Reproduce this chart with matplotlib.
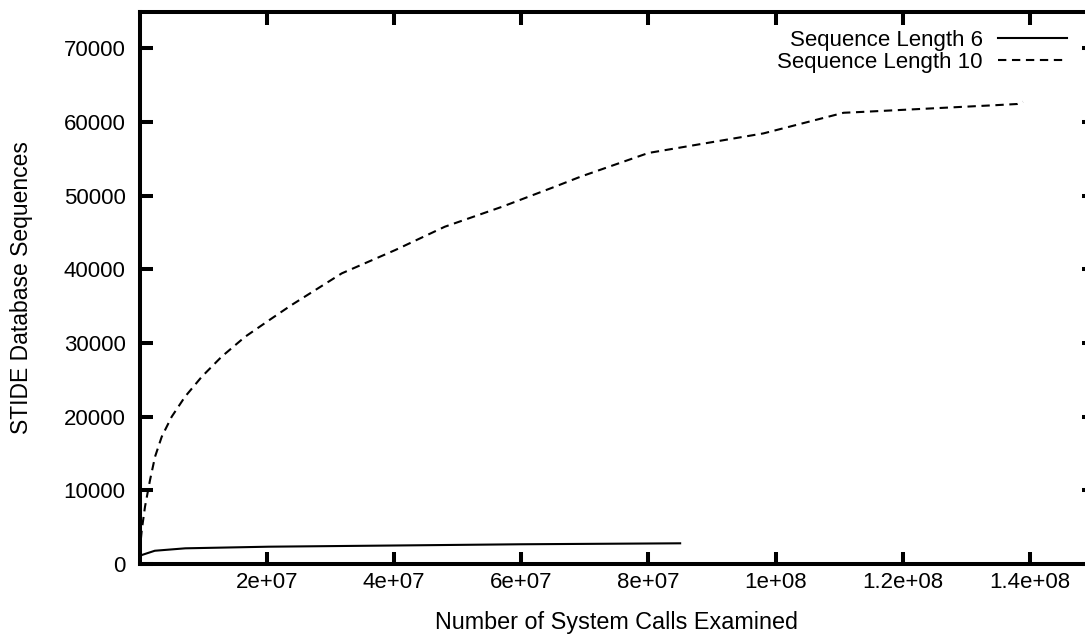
import matplotlib
matplotlib.use("Agg")
import matplotlib.pyplot as plt

plt.rcParams['font.family'] = ['Liberation Sans', 'DejaVu Sans']

# values
calls_len6 = [0, 3.5e5, 2.4e6, 7.2e6, 2.03e7, 4.1e7, 6.0e7, 8.5e7]
seqs_len6 = [900, 1220, 1800, 2130, 2350, 2520, 2680, 2810]

calls_len10 = [0, 3.5e5, 8.6e5, 1.65e6, 2.44e6, 3.49e6, 5.06e6, 7.15e6, 9.78e6,
               1.29e7, 1.66e7, 2.08e7, 2.39e7, 3.18e7, 4.02e7, 4.8e7, 5.7e7,
               6.53e7, 6.93e7, 8.0e7, 9.81e7, 1.107e8, 1.13e8, 1.348e8,
               1.38e8, 1.389e8]
seqs_len10 = [1500, 4600, 7780, 11400, 14570, 17280, 20000, 22710, 25420,
              28140, 30850, 33350, 35160, 39460, 42620, 45790, 48500,
              51220, 52570, 55800, 58460, 61260, 61350, 62300,
              62450, 62750]

xticks = [2e7, 4e7, 6e7, 8e7, 1e8, 1.2e8, 1.4e8]
xtick_labels = ['2e+07', '4e+07', '6e+07', '8e+07', '1e+08', '1.2e+08', '1.4e+08']
yticks = [0, 10000, 20000, 30000, 40000, 50000, 60000, 70000]

fig = plt.figure(figsize=(10.85, 6.35), dpi=100)
ax = fig.add_axes([0.1286, 0.1118, 0.8793, 0.870])

ax.plot(calls_len6, seqs_len6, color='black', lw=1.5, label='Sequence Length 6')
ax.plot(calls_len10, seqs_len10, color='black', lw=1.5, dashes=(4, 2.7),
        label='Sequence Length 10')

ax.set_xlim(0, 1.5e8)
ax.set_ylim(0, 75000)
ax.set_xticks(xticks)
ax.set_xticklabels(xtick_labels)
ax.set_yticks(yticks)
ax.set_yticklabels([str(v) for v in yticks])

for sp in ax.spines.values():
    sp.set_linewidth(2.9)
ax.tick_params(direction='in', length=9, width=2.9, top=True, right=True,
               labelsize=16)
ax.tick_params(axis='y', pad=10)
ax.tick_params(axis='x', pad=6)

ax.set_xlabel('Number of System Calls Examined', fontsize=16.8, labelpad=13)
ax.set_ylabel('STIDE Database Sequences', fontsize=16.5, labelpad=22)

ax.legend(loc='upper right', bbox_to_anchor=(0.9888, 0.995), frameon=False,
          markerfirst=False, fontsize=16, handlelength=3.1, handletextpad=0.7,
          labelspacing=0.05, borderaxespad=0.3)

fig.savefig('out.png', dpi=100)
